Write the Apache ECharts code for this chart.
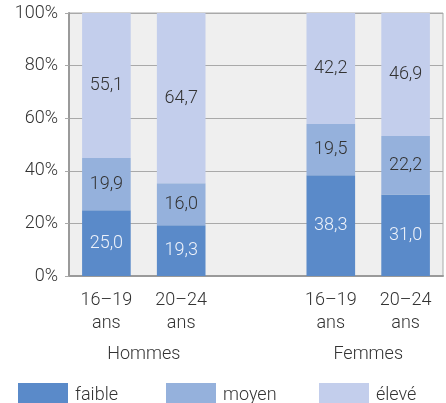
<!DOCTYPE html>
<html>
<head>
<meta charset="utf-8">
<script src="https://cdn.jsdelivr.net/npm/echarts@6/dist/echarts.min.js"></script>
<style>
  html, body { margin: 0; padding: 0; background: #fff; }
  #main { width: 446px; height: 403px; }
</style>
</head>
<body>
<div id="main"></div>
<script>
// categories (empty slot = gap between the two groups)
var categories = ['16\u201319\nans', '20\u201324\nans', '', '16\u201319\nans', '20\u201324\nans'];
var groups = ['Hommes', 'Femmes'];
var seriesNames = ['faible', 'moyen', '\u00e9lev\u00e9'];
var faible = [25.0, 19.3, null, 38.3, 31.0];
var moyen = [19.9, 16.0, null, 19.5, 22.2];
var eleve = [55.1, 64.7, null, 42.2, 46.9];
var yTicks = [0, 20, 40, 60, 80, 100];

var font = 'Roboto';
var fs = 18;
function fmt(p) { return p.value == null ? '' : p.value.toFixed(1).replace('.', ','); }

function serie(name, data, color, labelColor) {
  return {
    name: name,
    type: 'bar',
    stack: 'total',
    data: data,
    barCategoryGap: '35%',
    itemStyle: { color: color },
    label: {
      show: true,
      position: 'inside',
      formatter: fmt,
      color: labelColor,
      fontFamily: font,
      fontWeight: 300,
      fontSize: fs
    }
  };
}

function legend(name, left) {
  return {
    left: left,
    top: 378,
    itemWidth: 50,
    itemHeight: 24,
    icon: 'rect',
    data: [name],
    textStyle: {
      fontFamily: font, fontWeight: 300, fontSize: fs, color: '#333',
      padding: [0, 0, 0, 2]
    }
  };
}

var chart = echarts.init(document.getElementById('main'));
chart.setOption({
  animation: false,
  grid: {
    left: 69, right: 3, top: 13, bottom: 127,
    show: true,
    backgroundColor: '#efefef',
    borderColor: '#a9a9a9',
    borderWidth: 1
  },
  legend: [legend(seriesNames[0], 13), legend(seriesNames[1], 161), legend(seriesNames[2], 314)],
  xAxis: [{
    type: 'category',
    data: categories,
    axisLine: { lineStyle: { color: '#9a9a9a', width: 2 } },
    axisTick: { show: false },
    axisLabel: {
      fontFamily: font, fontWeight: 300, fontSize: fs, color: '#333',
      lineHeight: 23, margin: 13
    }
  }, {
    type: 'value',
    position: 'bottom',
    min: 0, max: 5, interval: 1,
    offset: 61,
    axisLine: { show: false },
    axisTick: { show: false },
    splitLine: { show: false },
    axisLabel: {
      fontFamily: font, fontWeight: 300, fontSize: fs, color: '#333',
      showMinLabel: true, showMaxLabel: true,
      formatter: function (v) { return v === 1 ? groups[0] : (v === 4 ? groups[1] : ''); }
    }
  }],
  yAxis: {
    type: 'value',
    min: yTicks[0], max: yTicks[yTicks.length - 1], interval: 20,
    axisLine: { show: true, lineStyle: { color: '#9a9a9a', width: 2 } },
    axisTick: { show: true, length: 4, lineStyle: { color: '#a9a9a9' } },
    splitLine: { lineStyle: { color: '#a9a9a9', width: 1 } },
    axisLabel: {
      fontFamily: font, fontWeight: 300, fontSize: fs, color: '#333',
      margin: 11,
      formatter: '{value}%'
    }
  },
  series: [
    serie(seriesNames[0], faible, '#5a8ac9', '#eef2fa'),
    serie(seriesNames[1], moyen, '#95b1dc', '#333'),
    serie(seriesNames[2], eleve, '#c3ceec', '#333')
  ]
});
</script>
</body>
</html>
